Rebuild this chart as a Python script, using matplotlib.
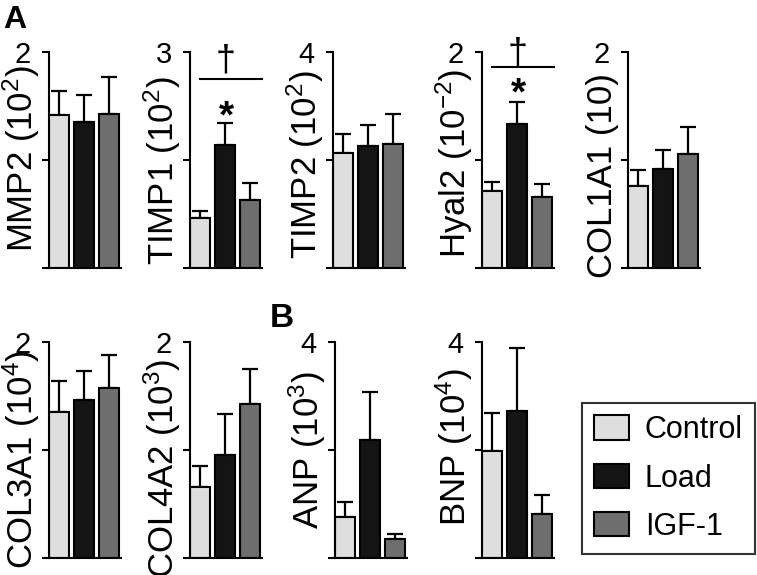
import matplotlib
matplotlib.use('Agg')
import matplotlib.pyplot as plt
from matplotlib.patches import Patch

plt.rcParams['font.family'] = ['Liberation Sans', 'DejaVu Sans']
plt.rcParams['mathtext.fontset'] = 'custom'
plt.rcParams['mathtext.rm'] = 'Liberation Sans'
plt.rcParams['mathtext.it'] = 'Liberation Sans:italic'
plt.rcParams['mathtext.bf'] = 'Liberation Sans:bold'

W, H = 757, 575

# ---- data ----
groups = ['Control', 'Load', 'IGF-1']
colors = ['#dedede', '#141414', '#6e6e6e']

mmp2_mean = [1.42, 1.35, 1.43]
mmp2_err = [0.22, 0.25, 0.34]
timp1_mean = [0.69, 1.71, 0.95]
timp1_err = [0.10, 0.31, 0.23]
timp2_mean = [2.13, 2.26, 2.29]
timp2_err = [0.36, 0.39, 0.56]
hyal2_mean = [0.71, 1.33, 0.66]
hyal2_err = [0.09, 0.21, 0.12]
col1a1_mean = [0.76, 0.92, 1.06]
col1a1_err = [0.15, 0.17, 0.25]
col3a1_mean = [1.35, 1.46, 1.57]
col3a1_err = [0.29, 0.27, 0.31]
col4a2_mean = [0.66, 0.95, 1.43]
col4a2_err = [0.19, 0.38, 0.32]
anp_mean = [0.76, 2.18, 0.36]
anp_err = [0.27, 0.89, 0.08]
bnp_mean = [1.98, 2.72, 0.81]
bnp_err = [0.71, 1.16, 0.35]

# ylabel, ymax, means, errors, significance (line, dagger, star) or None
panels = [
    (r'MMP2 (10$^{2}$)', 2, mmp2_mean, mmp2_err, None),
    (r'TIMP1 (10$^{2}$)', 3, timp1_mean, timp1_err, (2.62, 2.89, 2.26)),
    (r'TIMP2 (10$^{2}$)', 4, timp2_mean, timp2_err, None),
    (r'Hyal2 (10$^{-2}$)', 2, hyal2_mean, hyal2_err, (1.86, 1.99, 1.72)),
    ('COL1A1 (10)', 2, col1a1_mean, col1a1_err, None),
    (r'COL3A1 (10$^{4}$)', 2, col3a1_mean, col3a1_err, None),
    (r'COL4A2 (10$^{3}$)', 2, col4a2_mean, col4a2_err, None),
    (r'ANP (10$^{3}$)', 4, anp_mean, anp_err, None),
    (r'BNP (10$^{4}$)', 4, bnp_mean, bnp_err, None),
]

# ---- layout in pixels: axis x, axis top, label centre y ----
layout = [
    (49, 52, 159), (190, 52, 171), (333, 52, 165), (482, 52, 163), (628, 52, 176),
    (49, 342, 459), (190, 342, 468), (335, 342, 450), (482, 342, 447),
]
AX_W, AX_H = 72, 216

fig = plt.figure(figsize=(W / 100, H / 100), dpi=100)

x = [0, 1, 2]
for (ylab, ymax, mean, err, sig), (px, top, lab_y) in zip(panels, layout):
    ax = fig.add_axes([px / W, 1 - (top + AX_H) / H, AX_W / W, AX_H / H])
    ax.bar(x, mean, width=0.8, color=colors, edgecolor='black', linewidth=1.5, zorder=2)
    ax.errorbar(x, mean, yerr=[[0, 0, 0], err], fmt='none', ecolor='black',
                elinewidth=1.6, capsize=6, capthick=1.6, zorder=1, clip_on=False)
    ax.set_xlim(-0.4, 2.5)
    ax.set_ylim(0, ymax)
    ax.set_xticks([])
    ax.set_yticks([0, ymax / 2, ymax])
    ax.set_yticklabels(['', '', str(ymax)], fontsize=21)
    ax.tick_params(axis='y', length=5, width=1.5, pad=8)
    for s in ['top', 'right']:
        ax.spines[s].set_visible(False)
    for s in ['left', 'bottom']:
        ax.spines[s].set_linewidth(1.5)
    ax.patch.set_visible(False)

    fig.text((px - 16) / W, 1 - lab_y / H, ylab, rotation=90, rotation_mode='anchor',
             ha='center', va='baseline', fontsize=25)

    if sig is not None:
        line_y, dag_y, star_y = sig
        ax.plot([0.0, 2.5], [line_y, line_y], color='black', lw=1.5, clip_on=False)
        ax.annotate('\u2020', xy=(1.05, dag_y), xytext=(0, -0.3 * 26), textcoords='offset points',
                    ha='center', va='baseline', fontsize=26, annotation_clip=False)
        ax.annotate('*', xy=(1.05, star_y), xytext=(0, -0.58 * 28), textcoords='offset points',
                    ha='center', va='baseline', fontsize=28, fontweight='bold',
                    annotation_clip=False)

# panel letters
fig.text(3 / W, 1 - 28 / H, 'A', fontsize=23, fontweight='bold', ha='left', va='baseline')
fig.text(270 / W, 1 - 327 / H, 'B', fontsize=24, fontweight='bold', ha='left', va='baseline')

# legend
handles = [Patch(facecolor=c, edgecolor='black', linewidth=1.5) for c in colors]
leg = fig.legend(handles, groups, loc='upper left',
                 bbox_to_anchor=(582 / W, 1 - 403 / H), bbox_transform=fig.transFigure,
                 fontsize=22, frameon=True, fancybox=False, edgecolor='black',
                 handlelength=1.15, handleheight=0.85, labelspacing=0.6,
                 borderpad=0.4, handletextpad=0.5, borderaxespad=0)
leg.get_frame().set_linewidth(1.5)

plt.savefig('out.png', dpi=100)
plt.close()
